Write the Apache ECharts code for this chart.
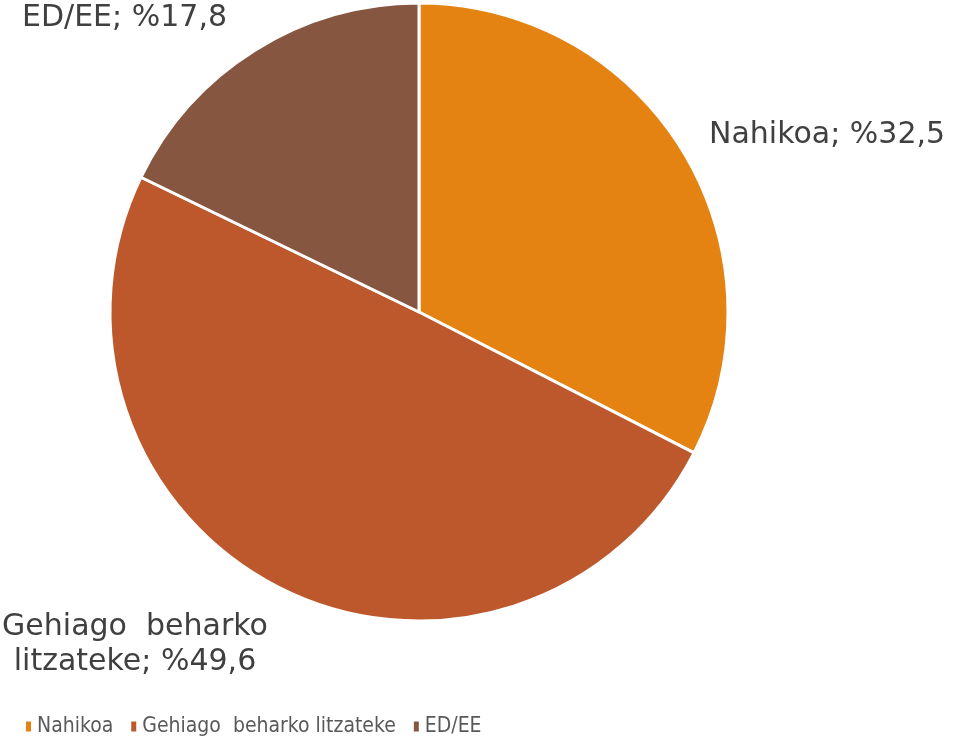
<!DOCTYPE html>
<html>
<head>
<meta charset="utf-8">
<script src="https://cdn.jsdelivr.net/npm/echarts@6/dist/echarts.min.js"></script>
<style>html,body{margin:0;padding:0;background:#fff}#c{width:953px;height:749px}</style>
</head>
<body>
<div id="c"></div>
<script>
const categories = ['Nahikoa', 'Gehiago  beharko litzateke', 'ED/EE'];
const labelNames = ['Nahikoa', 'Gehiago  beharko\nlitzateke', 'ED/EE'];
const values = [32.5, 49.6, 17.8];
const colors = ['#E48312', '#BD582C', '#865640'];

const labelPos = [
  {x: 709, y: 135, align: 'left'},
  {x: 135, y: 645, align: 'center'},
  {x: 22, y: 18, align: 'left'}
];

const chart = echarts.init(document.getElementById('c'));
chart.setOption({
  animation: false,
  color: colors,
  legend: {
    bottom: 7,
    left: 19,
    itemWidth: 7,
    itemHeight: 12,
    itemGap: 16,
    icon: 'rect',
    textStyle: {fontFamily: 'DejaVu Sans Condensed, sans-serif', fontSize: 21, color: '#595959'},
    data: categories
  },
  series: [{
    type: 'pie',
    center: [419, 312],
    radius: 309,
    startAngle: 90,
    clockwise: true,
    itemStyle: {borderColor: '#fff', borderWidth: 3},
    label: {
      show: true,
      position: 'inside',
      overflow: 'none',
      fontFamily: 'DejaVu Sans, Verdana, sans-serif',
      fontSize: 30,
      lineHeight: 35,
      color: '#404040',
      formatter: p => labelNames[p.dataIndex] + '; %' + p.value.toFixed(1).replace('.', ',')
    },
    labelLine: {show: false},
    labelLayout: p => ({x: labelPos[p.dataIndex].x, y: labelPos[p.dataIndex].y, align: labelPos[p.dataIndex].align, verticalAlign: 'middle'}),
    emphasis: {disabled: true},
    data: categories.map((c, i) => ({name: c, value: values[i]}))
  }]
});
</script>
</body>
</html>
